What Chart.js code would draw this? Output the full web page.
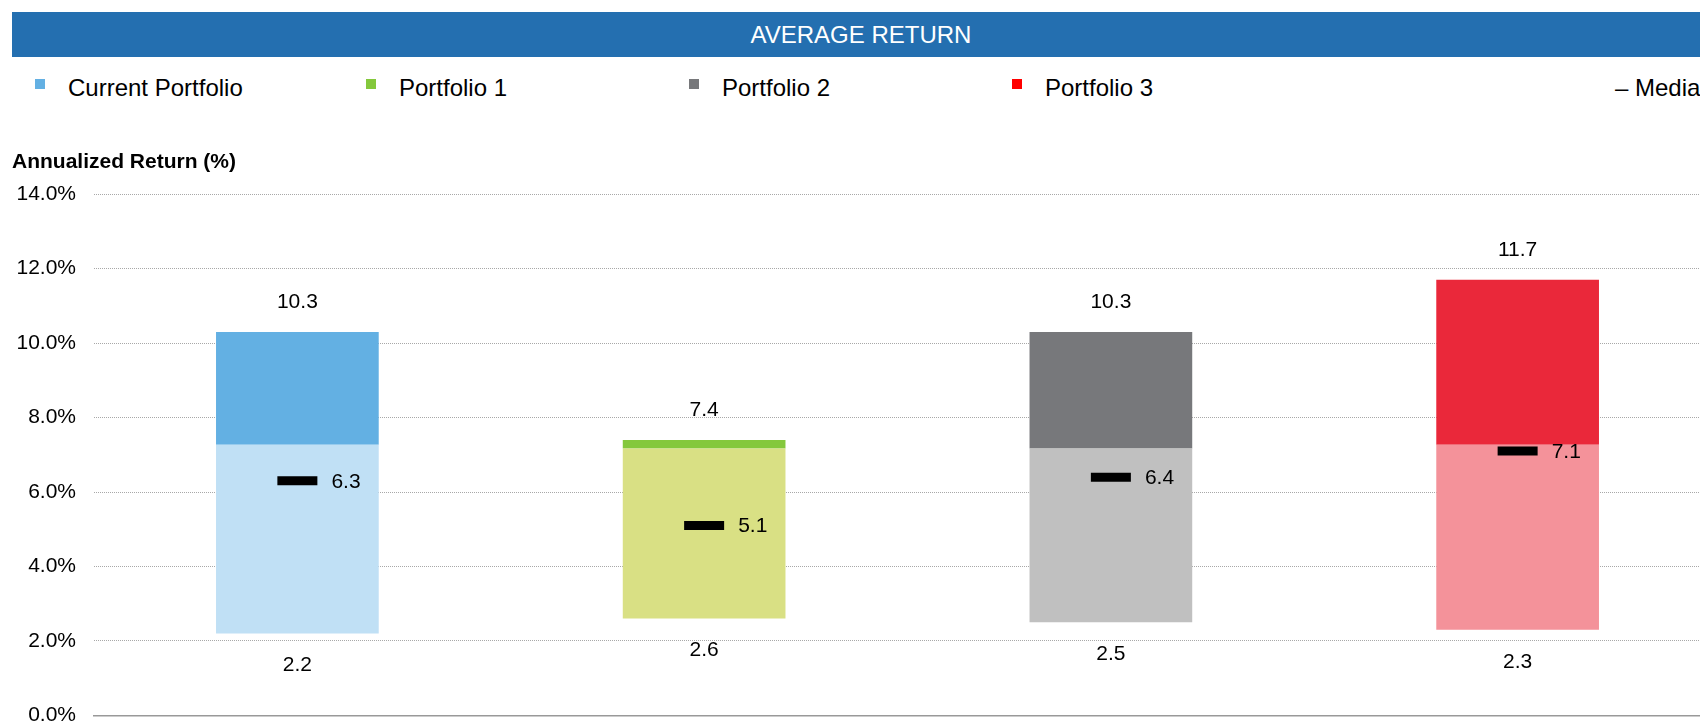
<!DOCTYPE html>
<html lang="en">
<head>
<meta charset="UTF-8">
<title>Average Return</title>
<script src="https://cdn.jsdelivr.net/npm/chart.js@4.4.0/dist/chart.umd.min.js"></script>
<style>
    html, body { margin: 0; padding: 0; background: #fff; }
    body { width: 1700px; height: 723px; overflow: hidden; position: relative;
           font-family: "Liberation Sans", Arial, sans-serif; }
    #header { position: absolute; left: 12px; top: 12px; width: 1698px; height: 45px;
              background: #246fb0; color: #fff; font-size: 24px; line-height: 45px; text-align: center; }
    .leg { position: absolute; top: 76px; height: 24px; font-size: 24px; line-height: 24px;
           color: #000; white-space: nowrap; }
    .leg i { position: absolute; left: 0; top: 3px; width: 10px; height: 10px; }
    .leg span { position: absolute; left: 33px; top: 0; }
    #wrap { position: absolute; left: 0; top: 130px; width: 1721px; height: 598px; }
    #myChart { display: block; width: 1721px; height: 598px; }
</style>
<script>
    // values (annualized return, %)
    var categories = ['Current Portfolio', 'Portfolio 1', 'Portfolio 2', 'Portfolio 3'];
    var lowValues = [2.2, 2.6, 2.5, 2.3];
    var splitValues = [7.27, 7.17, 7.17, 7.27];
    var highValues = [10.3, 7.4, 10.3, 11.7];
    var medianValues = [6.3, 5.1, 6.4, 7.1];
    var yMin = 0, yMax = 14, yStep = 2;

    var lightColors = ['#c0e0f5', '#d9e084', '#c0c0c0', '#f4929a'];
    var darkColors = ['#63b0e3', '#84c83c', '#77787b', '#ea283a'];
    var legendColors = ['#63b0e3', '#84c83c', '#77787b', '#ff0000'];

    // draws max / min / median numbers next to the bars
    var valueLabels = {
        id: 'valueLabels',
        afterDatasetsDraw: function (chart) {
            var ctx = chart.ctx;
            var xs = chart.scales.x, ys = chart.scales.y;
            var med = chart.getDatasetMeta(0);
            ctx.save();
            ctx.font = '21px "Liberation Sans", Arial, sans-serif';
            ctx.fillStyle = '#000';
            ctx.textBaseline = 'middle';
            ctx.textAlign = 'center';
            for (var i = 0; i < categories.length; i++) {
                var cx = xs.getPixelForValue(i);
                ctx.fillText(highValues[i].toFixed(1), cx, ys.getPixelForValue(highValues[i]) - 29.5);
                ctx.fillText(lowValues[i].toFixed(1), cx, ys.getPixelForValue(lowValues[i]) + 32);
            }
            ctx.textAlign = 'left';
            med.data.forEach(function (pt, i) {
                ctx.fillText(medianValues[i].toFixed(1), pt.x + 34, pt.y + 1);
            });
            ctx.restore();
        }
    };

    window.onload = function () {
        var legend = document.getElementById('legend');
        var lefts = [35, 366, 689, 1012];
        for (var i = 0; i < categories.length; i++) {
            var d = document.createElement('div');
            d.className = 'leg';
            d.style.left = lefts[i] + 'px';
            d.innerHTML = '<i style="background:' + legendColors[i] + '"></i><span>' + categories[i] + '</span>';
            legend.appendChild(d);
        }
        var m = document.createElement('div');
        m.className = 'leg';
        m.style.left = '1615px';
        m.textContent = '\u2013 Median';
        legend.appendChild(m);

        var low = [], high = [];
        for (var j = 0; j < categories.length; j++) {
            low.push([lowValues[j], splitValues[j]]);
            high.push([splitValues[j], highValues[j]]);
        }

        Chart.defaults.font.family = '"Liberation Sans", Arial, sans-serif';
        var ctx = document.getElementById('myChart');
        var chart = new Chart(ctx, {
            type: 'bar',
            data: {
                labels: categories,
                datasets: [{
                    type: 'line',
                    label: 'Median',
                    data: medianValues,
                    showLine: false,
                    pointStyle: 'line',
                    pointRadius: 20,
                    pointBorderWidth: 9,
                    pointBorderColor: '#000',
                    pointBackgroundColor: '#000',
                    order: 0
                }, {
                    label: 'Lower',
                    data: low,
                    backgroundColor: lightColors,
                    borderWidth: 0,
                    grouped: false,
                    barPercentage: 0.4,
                    categoryPercentage: 1,
                    order: 1
                }, {
                    label: 'Upper',
                    data: high,
                    backgroundColor: darkColors,
                    borderWidth: 0,
                    grouped: false,
                    barPercentage: 0.4,
                    categoryPercentage: 1,
                    order: 1
                }]
            },
            options: {
                responsive: false,
                animation: false,
                events: [],
                devicePixelRatio: 1,
                layout: { autoPadding: false, padding: { top: 19.5, left: 12, right: 0, bottom: 12.6 } },
                plugins: {
                    legend: { display: false },
                    tooltip: { enabled: false },
                    title: {
                        display: true,
                        text: 'Annualized Return (%)',
                        align: 'start',
                        color: '#000',
                        font: { size: 21, weight: 'bold' },
                        padding: { top: 0, bottom: 19.5 }
                    }
                },
                scales: {
                    x: {
                        ticks: { display: false },
                        grid: { display: false, drawTicks: false },
                        border: { display: true, color: '#999', width: 1.5 },
                        afterFit: function (scale) { scale.height = 0; }
                    },
                    y: {
                        min: yMin,
                        max: yMax,
                        afterFit: function (scale) {
                            scale.width = 82;
                            scale.paddingTop = 0;
                            scale.paddingBottom = 0;
                        },
                        ticks: {
                            stepSize: yStep,
                            padding: 18,
                            color: '#000',
                            font: { size: 21 },
                            callback: function (v) { return v.toFixed(1) + '%'; }
                        },
                        grid: { color: '#a8a8a8', lineWidth: 1, drawTicks: false },
                        border: { display: false, dash: [1, 1] }
                    }
                }
            },
            plugins: [valueLabels]
        });
    };
</script>
</head>
<body>
    <div id="header">AVERAGE RETURN</div>
    <div id="legend"></div>
    <div id="wrap">
        <canvas id="myChart" width="1721" height="598"></canvas>
    </div>
</body>
</html>
